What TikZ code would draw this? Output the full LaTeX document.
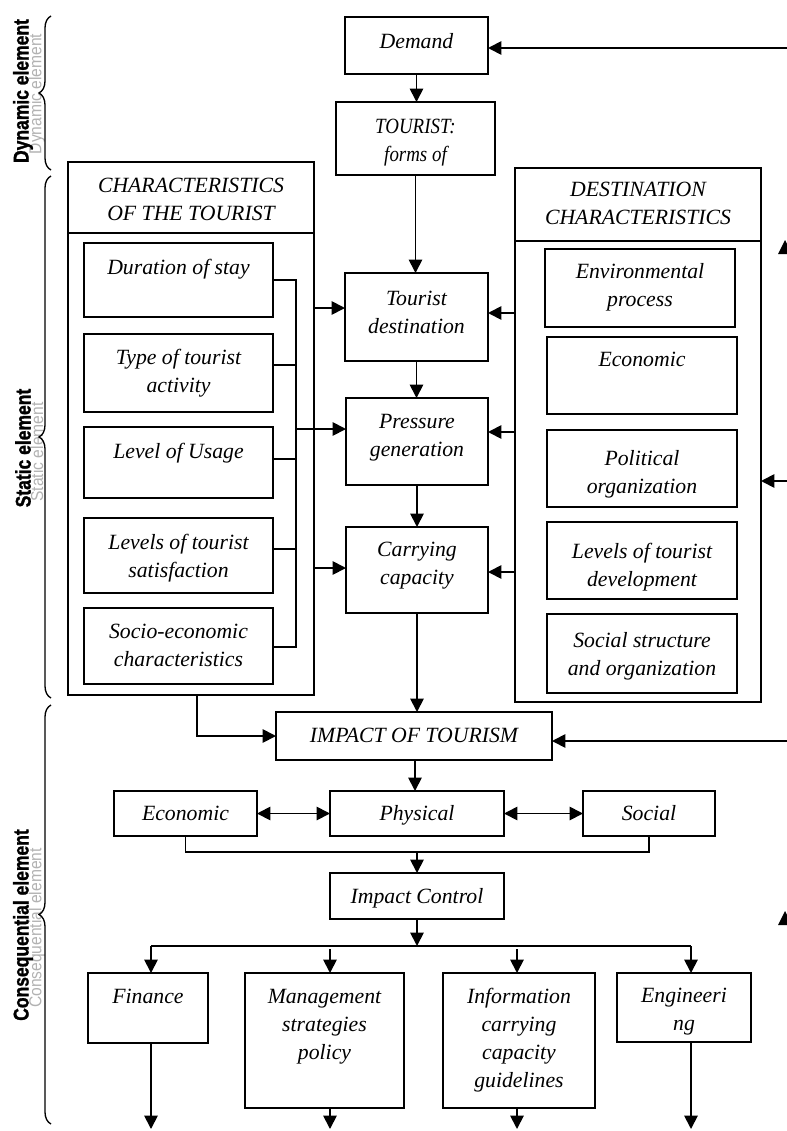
\documentclass[tikz,border=0pt]{standalone}
\usepackage{fontspec}
\setmainfont{Liberation Serif}
\newfontfamily\sidefont{Liberation Sans}[FakeStretch=0.82,FakeBold=1.2]
\newfontfamily\ghostfont{Liberation Sans}[FakeStretch=0.9]
\newfontfamily\condfont{Liberation Serif}[FakeStretch=0.87]
\usetikzlibrary{arrows.meta,fit,decorations.pathreplacing}
\newcommand\dbox[7]{%
  \node[bx, fit={(#2,#3) (#4,#5)}] (#1) {};
  \node[tx] (#1-t) at ({(#2+#4)/2},#6) {#7};}
\begin{document}
\begin{tikzpicture}[x=0.75pt,y=-0.75pt,
  bx/.style={draw, line width=1.35pt, inner sep=0pt, outer sep=0pt},
  tx/.style={font=\fontsize{16.3}{21}\selectfont\itshape, align=center, inner sep=0pt, anchor=north},
  ln/.style={line width=1.35pt},
  arr/.style={line width=1.35pt, -{Triangle[length=10pt,width=10pt]}},
  dbl/.style={line width=1.35pt, {Triangle[length=10pt,width=10pt]}-{Triangle[length=10pt,width=10pt]}},
  brc/.style={decorate, decoration={brace, amplitude=9pt}, line width=1pt},
  side/.style={rotate=90, inner sep=0pt, font=\sidefont\bfseries\fontsize{16}{18}\selectfont},
  ghost/.style={rotate=90, inner sep=0pt, font=\ghostfont\fontsize{13}{15}\selectfont, text=black!30}
]
\useasboundingbox (0,0) rectangle (787,1131);

% side labels
\node[ghost] (g1) at (37,94) {Dynamic element};
\node[side] (l1) at (23,91) {Dynamic element};
\node[ghost] (g2) at (37,452) {Static element};
\node[side] (l2) at (23,448) {Static element};
\node[ghost] (g3) at (37,928) {Consequential element};
\node[side] (l3) at (23,925) {Consequential element};
\coordinate (b1a) at (51,170); \coordinate (b1b) at (51,16);
\coordinate (b2a) at (51,698); \coordinate (b2b) at (51,176);
\coordinate (b3a) at (51,1124); \coordinate (b3b) at (51,705);
\draw[brc] (b1a) -- (b1b);
\draw[brc] (b2a) -- (b2b);
\draw[brc] (b3a) -- (b3b);

% top column
\dbox{demand}{345}{17}{488}{74}{33.5}{Demand}
\dbox{tourist}{336}{102}{495}{175}{118.5}{{\condfont TOURIST:}\\{\condfont forms of}}
\dbox{tdest}{345}{273}{488}{361}{290.5}{Tourist\\destination}
\dbox{press}{346}{398}{488}{485}{413.5}{Pressure\\generation}
\dbox{carry}{346}{527}{488}{613}{541.5}{Carrying\\capacity}

% left group
\node[bx, fit={(68,162) (314,695)}] (charT) {};
\draw[ln] (charT.west |- 0,233) -- (charT.east |- 0,233);
\node[tx] (charT-t) at (191,177.5) {CHARACTERISTICS\\OF THE TOURIST};
\dbox{dur}{84}{243}{273}{317}{258.5}{Duration of stay}
\dbox{type}{84}{334}{273}{412}{348.5}{Type of tourist\\activity}
\dbox{usage}{84}{427}{273}{498}{442.5}{Level of Usage}
\dbox{satis}{84}{518}{273}{593}{533.5}{Levels of tourist\\satisfaction}
\dbox{socio}{84}{608}{273}{684}{623.5}{Socio-economic\\characteristics}

% right group
\node[bx, fit={(515,168) (761,702)}] (destC) {};
\draw[ln] (destC.west |- 0,241) -- (destC.east |- 0,241);
\node[tx] (destC-t) at (638,181.5) {DESTINATION\\CHARACTERISTICS};
\dbox{env}{545}{249}{735}{327}{263.5}{Environmental\\process}
\dbox{econR}{547}{337}{737}{414}{351.5}{Economic}
\dbox{polit}{547}{430}{737}{507}{450.5}{Political\\organization}
\dbox{ldev}{547}{522}{737}{599}{542.5}{Levels of tourist\\development}
\dbox{sstr}{547}{614}{737}{693}{632.5}{Social structure\\and organization}

% consequences
\dbox{impact}{276}{712}{552}{760}{727.5}{IMPACT OF TOURISM}
\dbox{econ}{114}{791}{257}{836}{805.5}{Economic}
\dbox{phys}{330}{791}{504}{836}{805.5}{Physical}
\dbox{social}{583}{791}{715}{836}{805.5}{Social}
\dbox{ictrl}{330}{873}{504}{919}{888.5}{Impact Control}
\dbox{fin}{88}{973}{208}{1043}{988.5}{Finance}
\dbox{mgmt}{245}{973}{404}{1108}{988.5}{Management\\strategies\\policy}
\dbox{info}{443}{973}{595}{1108}{987.5}{Information\\carrying\\capacity\\guidelines}
\dbox{eng}{617}{973}{751}{1042}{987.5}{Engineeri\\ng}

% free ends
\coordinate (rDem) at (787,48);
\coordinate (rDest) at (787,481);
\coordinate (rImp) at (787,741);
\coordinate (bk) at (296,429);
\coordinate (e1) at (151,1129);
\coordinate (e2) at (330,1129);
\coordinate (e3) at (517,1129);
\coordinate (e4) at (691,1129);

% main column arrows
\draw[arr] (rDem) -- (rDem -| demand.east);
\draw[arr] (demand.south) -- (demand.south |- tourist.north);
\draw[arr] (tourist.south) -- (tourist.south |- tdest.north);
\draw[arr] (tdest.south) -- (tdest.south |- press.north);
\draw[arr] (press.south) -- (press.south |- carry.north);
\draw[arr] (carry.south) -- (carry.south |- impact.north);

% left bracket
\draw[ln] (dur.east) -- (296,280) -- (296,647) -- (socio.east |- 0,647);
\draw[ln] (type.east |- 0,365) -- (296,365);
\draw[ln] (usage.east |- 0,459) -- (296,459);
\draw[ln] (satis.east |- 0,549) -- (296,549);
\draw[arr] (charT.east |- 0,308) -- (tdest.west |- 0,308);
\draw[arr] (bk) -- (press.west |- bk);
\draw[arr] (charT.east |- 0,568) -- (carry.west |- 0,568);

% right arrows
\draw[arr] (destC.west |- 0,313) -- (tdest.east |- 0,313);
\draw[arr] (destC.west |- 0,432) -- (press.east |- 0,432);
\draw[arr] (destC.west |- 0,572) -- (carry.east |- 0,572);
\draw[arr] (rDest) -- (rDest -| destC.east);

% impact
\draw[arr] (charT.south -| 197,0) |- (impact.west);
\draw[arr] (rImp) -- (rImp -| impact.east);
\draw[arr] (impact.south -| 415,0) -- (phys.north -| 415,0);
\draw[dbl] (econ.east) -- (phys.west);
\draw[dbl] (phys.east) -- (social.west);
\draw[ln] (econ.south) -- (econ.south |- 0,852) -- (social.south |- 0,852) -- (social.south);
\draw[arr] (ictrl.north |- 0,852) -- (ictrl.north);
\draw[arr] (ictrl.south) -- (ictrl.south |- 0,946);
\draw[ln] (151,946) -- (691,946);
\draw[arr] (151,946) -- (fin.north -| 151,0);
\draw[arr] (330,949) -- (mgmt.north -| 330,0);
\draw[arr] (517,949) -- (info.north -| 517,0);
\draw[arr] (691,946) -- (eng.north -| 691,0);
\draw[arr] (fin.south -| e1) -- (e1);
\draw[arr] (mgmt.south -| e2) -- (e2);
\draw[arr] (info.south -| e3) -- (e3);
\draw[arr] (eng.south -| e4) -- (e4);

% lone arrowheads at the right edge
\fill (785,240) -- (778,254) -- (792,254) -- cycle;
\fill (785,911) -- (778,925) -- (792,925) -- cycle;
\end{tikzpicture}
\end{document}
